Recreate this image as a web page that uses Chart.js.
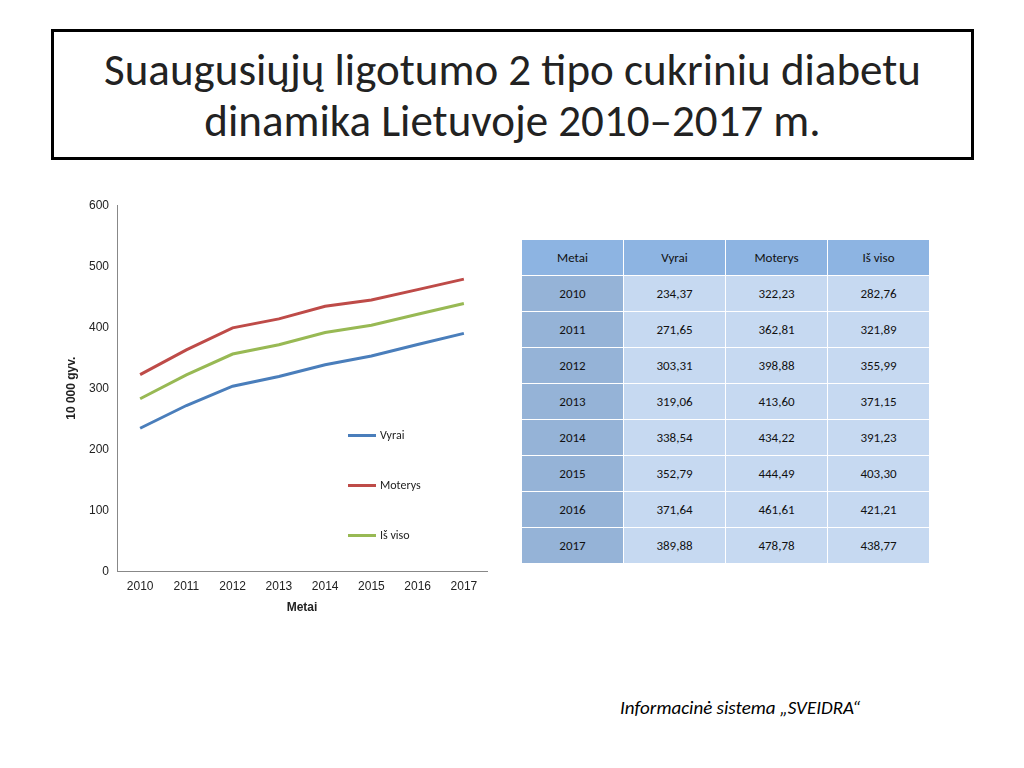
<!DOCTYPE html>
<html><head><meta charset="utf-8">
<script src="https://cdn.jsdelivr.net/npm/chart.js@4"></script>
<style>
body{margin:0;width:1024px;height:768px;background:#fff;font-family:Calibri,"Liberation Sans",Carlito,sans-serif;position:relative;overflow:hidden}
#title{position:absolute;left:51px;top:29px;width:917px;height:125px;border:3px solid #000;display:flex;align-items:center;justify-content:center;text-align:center;font-size:45px;line-height:51px;color:#222}
#wrap{position:absolute;left:60px;top:195px;width:430px;height:424px}
#legend{position:absolute;left:348px;top:410px;font-size:12px;color:#222}
#legend div{display:flex;align-items:center;height:50px}
#legend span{display:inline-block;width:28px;height:3px;margin-right:4px}
table{position:absolute;left:521px;top:239px;border-collapse:collapse;font-size:13px}
td{width:101px;height:35px;padding:0;text-align:center;border:1px solid #fff;background:#C6D9F1;color:#111;font-weight:normal}
td:first-child{background:#95B3D7}
tr:first-child td{background:#8DB4E2}
#foot{position:absolute;left:620px;top:696px;font-size:19px;font-style:italic}
</style></head><body>
<div id="title">Suaugusiųjų ligotumo 2 tipo cukriniu diabetu<br>dinamika Lietuvoje 2010–2017 m.</div>
<div id="wrap"><canvas id="c"></canvas></div>
<div id="legend"></div>
<table id="tbl"></table>
<div id="foot">Informacinė sistema „SVEIDRA“</div>
<script>
const years = ['2010','2011','2012','2013','2014','2015','2016','2017'];
const vyrai = [234.37, 271.65, 303.31, 319.06, 338.54, 352.79, 371.64, 389.88];
const moterys = [322.23, 362.81, 398.88, 413.60, 434.22, 444.49, 461.61, 478.78];
const isViso = [282.76, 321.89, 355.99, 371.15, 391.23, 403.30, 421.21, 438.77];
const seriesNames = ['Vyrai', 'Moterys', 'Iš viso'];
const colors = ['#4A7EBB', '#BE4B48', '#98B954'];

const fmt = (v) => v.toFixed(2).replace('.', ',');

const rows = [['Metai', ...seriesNames]].concat(
  years.map((y, i) => [y, fmt(vyrai[i]), fmt(moterys[i]), fmt(isViso[i])])
);
document.getElementById('tbl').innerHTML = rows
  .map((r) => '<tr>' + r.map((c) => `<td>${c}</td>`).join('') + '</tr>')
  .join('');

document.getElementById('legend').innerHTML = seriesNames
  .map((n, i) => `<div><span style="background:${colors[i]}"></span>${n}</div>`)
  .join('');

new Chart(document.getElementById('c'), {
  type: 'line',
  data: {
    labels: years,
    datasets: [vyrai, moterys, isViso].map((data, i) => ({
      label: seriesNames[i], data, borderColor: colors[i], borderWidth: 3,
      pointRadius: 0, tension: 0, fill: false,
    })),
  },
  options: {
    responsive: true, maintainAspectRatio: false, animation: false,
    layout: { padding: { top: 10, right: 3 } },
    plugins: { legend: { display: false }, tooltip: { enabled: false } },
    scales: {
      x: {
        offset: true,
        grid: { display: false, drawTicks: true, tickLength: 5, color: '#888' },
        border: { color: '#888' },
        ticks: { color: '#222', font: { size: 12 } },
        title: { display: true, text: 'Metai', color: '#222', font: { size: 12, weight: 'bold' } },
      },
      y: {
        min: 0, max: 600,
        afterFit: (s) => { s.width = 57; },
        grid: { display: false, drawTicks: true, tickLength: 5 },
        border: { color: '#888' },
        ticks: { stepSize: 100, color: '#222', font: { size: 12 } },
        title: { display: true, text: '10 000 gyv.', color: '#222', font: { size: 12, weight: 'bold' } },
      },
    },
  },
});
</script>
</body></html>
